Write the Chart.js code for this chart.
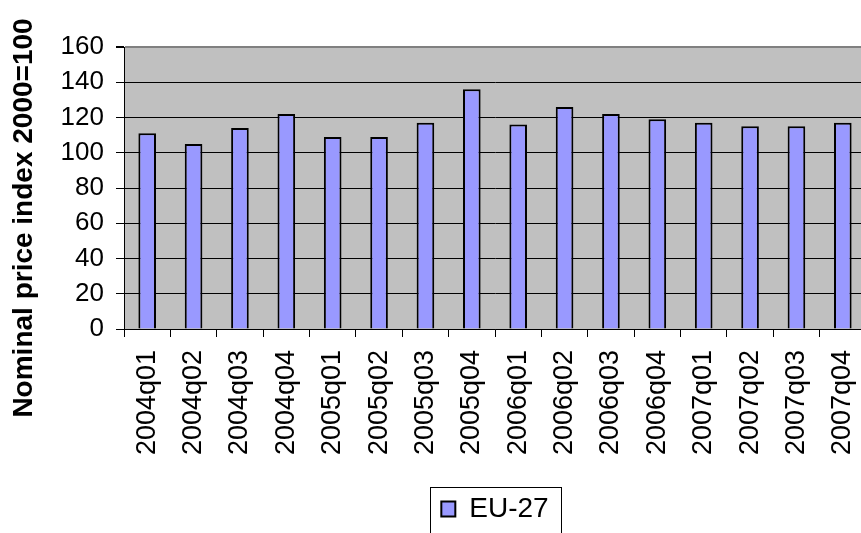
<!DOCTYPE html>
<html>
<head>
<meta charset="utf-8">
<script src="https://cdn.jsdelivr.net/npm/chart.js@4/dist/chart.umd.min.js"></script>
<style>
  html, body { margin: 0; padding: 0; background: #fff; overflow: hidden; }
  #wrap { width: 861px; height: 533px; overflow: hidden; }
  canvas { display: block; }
</style>
</head>
<body>
<div id="wrap"><canvas id="chart" width="866" height="533"></canvas></div>
<script>
// data
var quarters = ["2004q01", "2004q02", "2004q03", "2004q04",
                "2005q01", "2005q02", "2005q03", "2005q04",
                "2006q01", "2006q02", "2006q03", "2006q04",
                "2007q01", "2007q02", "2007q03", "2007q04"];
var eu27 = [111, 105, 114, 122, 109, 109, 117, 136, 116, 126, 122, 119, 117, 115, 115, 117];
var seriesName = "EU-27";
var yTitle = "Nominal price index 2000=100";
var yTicks = [0, 20, 40, 60, 80, 100, 120, 140, 160];

var FONT = "'Liberation Sans', Arial, sans-serif";

// grey plot background
var plotBg = {
    id: "plotBg",
    beforeDraw: function (chart) {
        var a = chart.chartArea, c = chart.ctx;
        c.save();
        c.fillStyle = "#c0c0c0";
        c.fillRect(a.left, a.top, a.right - a.left, a.bottom - a.top);
        c.restore();
    }
};

// y title (placed by hand) and frame round the legend
var extras = {
    id: "extras",
    afterDraw: function (chart) {
        var c = chart.ctx;
        c.save();
        c.translate(24, 218);
        c.rotate(-Math.PI / 2);
        c.font = "bold 28px " + FONT;
        c.fillStyle = "#000";
        c.textAlign = "center";
        c.textBaseline = "middle";
        c.fillText(yTitle, 0, 0);
        c.restore();

        var hb = chart.legend.legendHitBoxes[0];
        if (hb) {
            var l = Math.round(hb.left - 11) + 0.5;
            var r = Math.round(hb.left + hb.width + 12) + 0.5;
            var t = Math.round(chart.legend.top + 2) + 0.5;
            c.save();
            c.strokeStyle = "#000";
            c.lineWidth = 1;
            c.strokeRect(l, t, r - l, 60);
            c.restore();
        }
    }
};

new Chart(document.getElementById("chart"), {
    type: "bar",
    data: {
        labels: quarters,
        datasets: [{
            label: seriesName,
            data: eu27,
            backgroundColor: "#9999ff",
            borderColor: "#000",
            borderWidth: 2,
            barPercentage: 0.38,
            categoryPercentage: 1
        }]
    },
    options: {
        responsive: false,
        animation: false,
        layout: { padding: { top: 47, left: 0, right: 0, bottom: 0 } },
        plugins: {
            tooltip: { enabled: false },
            legend: {
                position: "bottom",
                fullSize: false,
                labels: {
                    font: { family: FONT, size: 28 },
                    color: "#000",
                    boxWidth: 14,
                    boxHeight: 15,
                    padding: 10
                }
            }
        },
        scales: {
            x: {
                offset: true,
                grid: {
                    offset: true,
                    drawOnChartArea: false,
                    drawTicks: true,
                    tickLength: 8,
                    color: "#000"
                },
                border: { color: "#000", width: 1 },
                ticks: {
                    autoSkip: false,
                    maxRotation: 90,
                    minRotation: 90,
                    padding: 13,
                    color: "#000",
                    font: { family: FONT, size: 27 }
                },
                afterFit: function (s) {
                    s.height = 533 - 329 - 48;
                    s.paddingLeft = 0;
                    s.paddingRight = 0;
                }
            },
            y: {
                min: yTicks[0],
                max: yTicks[yTicks.length - 1],
                afterBuildTicks: function (s) {
                    s.ticks = yTicks.map(function (v) { return { value: v }; });
                },
                grid: {
                    color: function (ctx) { return ctx.tick && ctx.tick.value === 160 ? "#808080" : "#000"; },
                    lineWidth: function (ctx) { return ctx.tick && ctx.tick.value === 160 ? 2 : 1; },
                    tickColor: "#000",
                    tickLength: 8
                },
                border: { color: "#000", width: 1 },
                ticks: {
                    padding: 12,
                    color: "#000",
                    font: { family: FONT, size: 26 }
                },
                afterFit: function (s) {
                    s.width = 124;
                    s.paddingTop = 0;
                    s.paddingBottom = 0;
                }
            }
        }
    },
    plugins: [plotBg, extras]
});
</script>
</body>
</html>
